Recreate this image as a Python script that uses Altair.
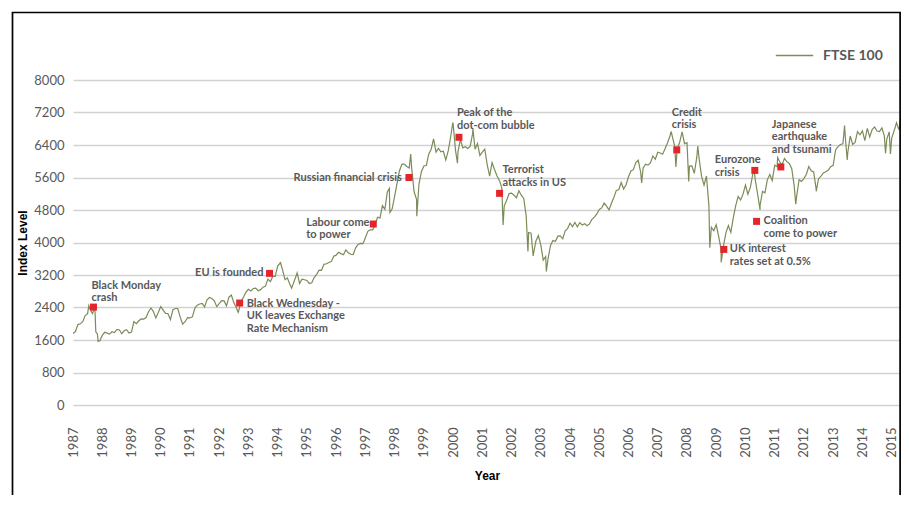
import altair as alt
import pandas as pd

# ---------------- data ----------------
SERIES = "FTSE 100"
year_ticks = list(range(1987, 2016))
y_ticks = list(range(0, 8001, 800))

# month-end closes, Jan..Dec
close_1987 = [1808, 1980, 1998, 2050, 2203, 2248, 2360, 2250, 2366, 1750, 1580, 1713]
close_1988 = [1790, 1769, 1745, 1802, 1784, 1857, 1853, 1753, 1826, 1853, 1770, 1793]
close_1989 = [2052, 2002, 2073, 2119, 2114, 2152, 2297, 2387, 2299, 2142, 2276, 2422]
close_1990 = [2337, 2255, 2247, 2103, 2345, 2375, 2375, 2163, 1990, 2050, 2149, 2143]
close_1991 = [2170, 2380, 2456, 2486, 2499, 2414, 2588, 2645, 2621, 2566, 2420, 2493]
close_1992 = [2571, 2562, 2440, 2654, 2708, 2521, 2400, 2312, 2553, 2658, 2778, 2847]
close_1993 = [2807, 2868, 2878, 2813, 2840, 2900, 2927, 3100, 3038, 3171, 3166, 3418]
close_1994 = [3491, 3328, 3086, 3126, 2970, 2919, 3082, 3251, 2991, 3098, 3082, 3066]
close_1995 = [2991, 3010, 3137, 3216, 3319, 3315, 3463, 3477, 3508, 3529, 3664, 3689]
close_1996 = [3759, 3727, 3699, 3818, 3747, 3711, 3703, 3867, 3953, 3979, 3971, 4119]
close_1997 = [4275, 4309, 4312, 4436, 4621, 4604, 4907, 4817, 5244, 4842, 4831, 5136]
close_1998 = [5458, 5767, 5932, 5928, 5870, 5833, 5837, 5249, 5064, 5438, 5744, 5883]
close_1999 = [5896, 6175, 6296, 6552, 6226, 6318, 6231, 6246, 6030, 6256, 6597, 6930]
close_2000 = [6269, 6233, 6540, 6327, 6359, 6313, 6365, 6673, 6294, 6438, 6142, 6222]
close_2001 = [6298, 5918, 5634, 5967, 5796, 5643, 5529, 5345, 4903, 5040, 5204, 5217]
close_2002 = [5165, 5101, 5272, 5165, 5086, 4656, 4246, 4227, 3722, 4040, 4169, 3940]
close_2003 = [3567, 3656, 3613, 3926, 4048, 4031, 4157, 4161, 4091, 4287, 4343, 4477]
close_2004 = [4390, 4492, 4386, 4489, 4431, 4464, 4413, 4459, 4571, 4624, 4703, 4814]
close_2005 = [4852, 4968, 4894, 4801, 4964, 5113, 5282, 5297, 5478, 5317, 5423, 5619]
close_2006 = [5760, 5792, 5965, 6023, 5723, 5833, 5928, 5906, 5961, 6129, 6048, 6221]
close_2007 = [6203, 6172, 6308, 6450, 6621, 6608, 6360, 6303, 6467, 6722, 6432, 6457]
close_2008 = [5880, 5884, 5702, 6087, 6053, 5626, 5412, 5637, 4902, 4377, 4288, 4434]
close_2009 = [4150, 3830, 3926, 4244, 4418, 4249, 4608, 4909, 5134, 5045, 5191, 5413]
close_2010 = [5189, 5355, 5680, 5553, 5188, 4917, 5258, 5225, 5549, 5675, 5528, 5900]
close_2011 = [5863, 5994, 5909, 6070, 5990, 5946, 5815, 5395, 5128, 5544, 5505, 5572]
close_2012 = [5682, 5872, 5768, 5738, 5321, 5571, 5635, 5711, 5742, 5783, 5867, 5898]
close_2013 = [6277, 6361, 6412, 6430, 6583, 6215, 6621, 6413, 6462, 6731, 6651, 6749]
close_2014 = [6510, 6810, 6598, 6780, 6845, 6744, 6730, 6820, 6623, 6546, 6723, 6566]
close_2015 = [6749, 6947, 6773]

# intra-month highs / lows visible as spikes (decimal year, level)
spike_dates = [1987.00, 1987.54, 1987.74, 1987.78, 1987.86, 1992.65, 1994.09, 1994.48,
               1997.82, 1997.84, 1998.55, 1998.76, 1999.99, 2000.15, 2000.68, 2001.71,
               2002.56, 2002.74, 2003.19, 2006.45, 2007.46, 2007.62, 2008.06, 2008.37,
               2008.78, 2009.17, 2010.29, 2010.50, 2011.10, 2011.72, 2012.42, 2013.39,
               2013.48, 2014.79, 2014.96, 2015.32]
spike_values = [1760, 2443, 2400, 1800, 1565, 2281, 3520, 2877,
                5330, 4740, 6179, 4648, 6950, 5950, 6798, 4433,
                3777, 3671, 3287, 5467, 6732, 5858, 5500, 6376,
                3874, 3512, 5825, 4805, 6091, 4944, 5260, 6876,
                6029, 6195, 6182, 7100]

# events
event_labels = ["Black Monday\ncrash", "Black Wednesday -\nUK leaves Exchange\nRate Mechanism",
                "EU is founded", "Labour come\nto power", "Russian financial crisis",
                "Peak of the\ndot-com bubble", "Terrorist\nattacks in US", "Credit\ncrisis",
                "UK interest\nrates set at 0.5%", "Coalition\ncome to power",
                "Eurozone\ncrisis", "Japanese\nearthquake\nand tsunami"]
event_years = [1987.70, 1992.70, 1993.72, 1997.27, 1998.49, 2000.20, 2001.59, 2007.65,
               2009.26, 2010.38, 2010.32, 2011.21]
event_values = [2410, 2510, 3240, 4455, 5600, 6590, 5210, 6280, 3830, 4520, 5775, 5860]

# ---------------- build tables ----------------
monthly = [close_1987, close_1988, close_1989, close_1990, close_1991, close_1992, close_1993,
           close_1994, close_1995, close_1996, close_1997, close_1998, close_1999, close_2000,
           close_2001, close_2002, close_2003, close_2004, close_2005, close_2006, close_2007,
           close_2008, close_2009, close_2010, close_2011, close_2012, close_2013, close_2014,
           close_2015]
rows = []
for yr, vals in zip(year_ticks, monthly):
    for m, v in enumerate(vals, start=1):
        rows.append((yr + m / 12.0, v))
rows += list(zip(spike_dates, spike_values))
df = pd.DataFrame(rows, columns=["year", "value"]).sort_values("year")
df["series"] = SERIES

ev = pd.DataFrame({"year": event_years, "value": event_values, "label": event_labels})

# ---------------- styles ----------------
GREEN = "#7b8c58"
RED = "#e3262b"
TXT = "#585858"
FONT = "Lato"

xscale = alt.Scale(domain=[1987, 2015.32], nice=False, zero=False)
yscale = alt.Scale(domain=[0, 8000], nice=False)

line = alt.Chart(df).mark_line(strokeWidth=1.2, clip=True).encode(
    x=alt.X("year:Q", scale=xscale,
            axis=alt.Axis(values=year_ticks, tickCount=60, format="d", labelAngle=-90,
                          grid=False, domain=False, ticks=False, labelPadding=22,
                          labelOverlap=False, labelFlush=False, labelBound=False,
                          labelFont=FONT, labelFontSize=13, labelColor=TXT,
                          title="Year", titleFont="Liberation Sans", titleFontSize=12,
                          titleFontWeight="bold", titleColor="black", titlePadding=13)),
    y=alt.Y("value:Q", scale=yscale,
            axis=alt.Axis(values=y_ticks, tickCount=30, format="d", grid=True,
                          gridColor="#d2d2d2", gridWidth=1.5, domain=False, ticks=False,
                          labelPadding=9, labelOverlap=False, labelFlush=False,
                          labelBound=False, labelFont=FONT, labelFontSize=13,
                          labelColor=TXT, title="Index Level", titleFont="Liberation Sans",
                          titleFontSize=12, titleFontWeight="bold", titleColor="black",
                          titlePadding=4)),
    color=alt.Color("series:N", scale=alt.Scale(domain=[SERIES], range=[GREEN]),
                    legend=alt.Legend(orient="none", legendX=702, legendY=-44, title=None,
                                      symbolType="stroke", symbolSize=1400,
                                      symbolStrokeWidth=1.5, labelFont=FONT,
                                      labelFontSize=14, labelFontWeight="bold",
                                      labelColor=TXT, labelOffset=9, padding=0)),
)

markers = alt.Chart(ev).mark_square(size=49, color=RED, opacity=1).encode(
    x=alt.X("year:Q", scale=xscale), y=alt.Y("value:Q", scale=yscale))

# per-label placement: (align, baseline, dx, dy)
placement = [
    ("left", "top", -2, -27),
    ("left", "top", 7, -5),
    ("right", "middle", -6, 0),
    ("left", "top", -67, -7),
    ("right", "middle", -7, 0),
    ("left", "top", -2, -30),
    ("left", "top", 3, -29),
    ("left", "top", -5, -43),
    ("left", "top", 6, -6),
    ("left", "top", 7, -6),
    ("left", "top", -40, -16),
    ("left", "top", -9, -48),
]
texts = []
for i, (al, bl, dx, dy) in enumerate(placement):
    texts.append(
        alt.Chart(ev.iloc[[i]]).mark_text(
            align=al, baseline=bl, dx=dx, dy=dy, lineBreak="\n", lineHeight=12.3,
            font=FONT, fontSize=11, fontWeight="bold", color=TXT
        ).encode(x=alt.X("year:Q", scale=xscale), y=alt.Y("value:Q", scale=yscale),
                 text="label:N")
    )

frame = alt.Chart(pd.DataFrame({"f": [0]})).mark_rect(
    fillOpacity=0, stroke="black", strokeWidth=1.7, clip=False
).encode(x=alt.value(-60.5), x2=alt.value(827.1), y=alt.value(-67.5), y2=alt.value(640))

chart = alt.layer(line, markers, *texts, frame).properties(
    width=828, height=325,
    autosize=alt.AutoSizeParams(type="none"),
    padding={"left": 65, "top": 72, "right": 0, "bottom": 90},
).configure_view(stroke=None)

chart.save("out.html", embed_options={"renderer": "svg", "actions": False})
